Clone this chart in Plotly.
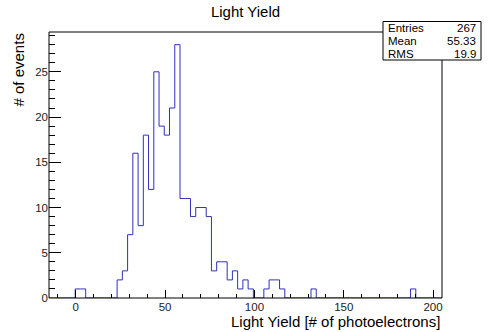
import numpy as np
import plotly.graph_objects as go

# histogram definition (ROOT style TH1: 75 bins from -15 to 205)
x_min, x_max, n_bins = -15.0, 205.0, 75
counts = [0, 0, 0, 0, 0, 1, 1, 0, 0, 0,
          0, 0, 0, 2, 3, 7, 16, 8, 18, 12,
          25, 19, 18, 21, 28, 11, 11, 9, 10, 10,
          9, 3, 4, 4, 2, 3, 1, 2, 1, 0,
          0, 1, 2, 2, 1, 0, 0, 0, 0, 0,
          1, 0, 0, 0, 0, 0, 0, 0, 0, 0,
          0, 0, 0, 0, 0, 0, 0, 0, 0, 1,
          0, 0, 0, 0, 0]
y_max = 29.4

stats_labels = ["Entries", "Mean", "RMS"]
stats_values = ["267", "55.33", "19.9"]

x_tickvals = [0, 50, 100, 150, 200]
y_tickvals = [0, 5, 10, 15, 20, 25]

W, H = 491, 332
ML, MR, MT, MB = 49, 49, 32, 34
FONT = "Liberation Sans, Arial, sans-serif"

def px2x(px):
    return (px - ML) / (W - ML - MR)

def px2y(py):
    return (H - MB - py) / (H - MT - MB)

edges = np.linspace(x_min, x_max, n_bins + 1)
ys = list(counts) + [counts[-1]]

fig = go.Figure()
fig.add_trace(go.Scatter(
    x=edges, y=ys, mode="lines", line=dict(color="#3030bc", width=1, shape="hv"),
    hoverinfo="skip", showlegend=False,
))

axis_common = dict(
    showgrid=False, zeroline=False, showline=False, ticks="inside",
    tickcolor="black", tickwidth=1,
    tickfont=dict(family=FONT, size=11.5, color="#222"),
)
fig.update_xaxes(
    range=[x_min, x_max], tickvals=x_tickvals, ticklen=8,
    minor=dict(dtick=10, tick0=0, ticklen=4, ticks="inside", tickcolor="black"),
    **axis_common,
)
fig.update_yaxes(
    range=[0, y_max], tickvals=y_tickvals, ticklen=12,
    minor=dict(dtick=1, tick0=0, ticklen=6, ticks="inside", tickcolor="black"),
    **axis_common,
)

# frame
fig.add_shape(type="rect", xref="paper", yref="paper", x0=0, x1=1, y0=0, y1=1,
              line=dict(color="black", width=1), layer="above")

# stats box
bx0, bx1, by0, by1 = 383, 481, 21.5, 60
fig.add_shape(type="rect", xref="paper", yref="paper",
              x0=px2x(bx0), x1=px2x(bx1), y0=px2y(by1), y1=px2y(by0),
              line=dict(color="black", width=1), fillcolor="white", layer="above")
row_h = (by1 - by0) / len(stats_labels)
for i, (lab, val) in enumerate(zip(stats_labels, stats_values)):
    yc = px2y(by0 + row_h * (i + 0.5))
    fig.add_annotation(x=px2x(bx0 + 3), y=yc, xref="paper", yref="paper", text=lab,
                       showarrow=False, xanchor="left", yanchor="middle",
                       font=dict(family=FONT, size=11.5, color="black"))
    fig.add_annotation(x=px2x(bx1 - 3), y=yc, xref="paper", yref="paper", text=val,
                       showarrow=False, xanchor="right", yanchor="middle",
                       font=dict(family=FONT, size=11.5, color="black"))

# axis titles
fig.add_annotation(x=1, y=px2y(321), xref="paper", yref="paper",
                   text="Light Yield [# of photoelectrons]", showarrow=False,
                   xanchor="right", yanchor="middle",
                   font=dict(family=FONT, size=15, color="black"))
fig.add_annotation(x=px2x(18), y=1, xref="paper", yref="paper",
                   text="# of events", showarrow=False, textangle=-90,
                   xanchor="center", yanchor="top",
                   font=dict(family=FONT, size=15, color="black"))

fig.update_layout(
    width=W, height=H,
    margin=dict(l=ML, r=MR, t=MT, b=MB),
    paper_bgcolor="white", plot_bgcolor="white",
    title=dict(text="Light Yield", x=0.5, xref="container", xanchor="center",
               y=1 - 12 / H, yanchor="middle",
               font=dict(family=FONT, size=15, color="black")),
    showlegend=False,
)

# drop the default page margin so the figure sits at the window's corner
fig.write_html("out.html", config={"displayModeBar": False},
               post_script="document.body.style.margin='0';")
